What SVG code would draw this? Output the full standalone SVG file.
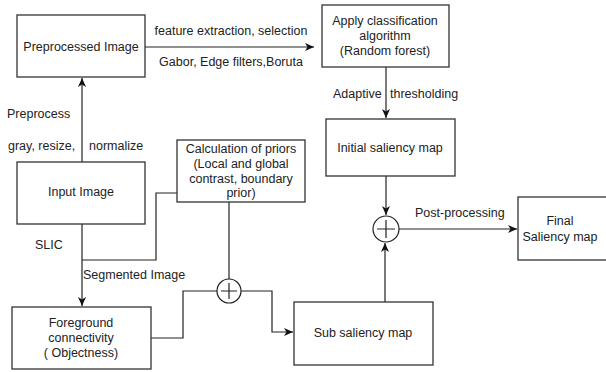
<svg xmlns="http://www.w3.org/2000/svg" width="606" height="372" viewBox="0 0 606 372">
<defs>
<style>
.box{fill:#fff;stroke:#333;stroke-width:1.3}
.t{font-family:"Liberation Sans",Arial,sans-serif;font-size:12.5px;fill:#222;text-anchor:middle}
.l{font-family:"Liberation Sans",Arial,sans-serif;font-size:12.5px;fill:#222}
.c{fill:none;stroke:#222;stroke-width:1.2}
</style>
<marker id="ah" markerWidth="10" markerHeight="10" refX="9" refY="5" orient="auto" markerUnits="userSpaceOnUse">
<path d="M0,1 L9,5 L0,9 L2.5,5 Z" fill="#111"/>
</marker>
</defs>
<rect width="606" height="372" fill="#fff"/>
<g id="connectors">
<path class="c" d="M145,47 H314" marker-end="url(#ah)"/>
<path class="c" d="M82,162 V78" marker-end="url(#ah)"/>
<path class="c" d="M386,67 V118" marker-end="url(#ah)"/>
<path class="c" d="M82,224 V306" marker-end="url(#ah)"/>
<path class="c" d="M177,193 H156 V260 H82"/>
<path class="c" d="M229,202 V279"/>
<path class="c" d="M151,338 H183 V291 H217"/>
<path class="c" d="M241,291 H272 V332 H293" marker-end="url(#ah)"/>
<path class="c" d="M386,176 V215" marker-end="url(#ah)"/>
<path class="c" d="M385,302 V243" marker-end="url(#ah)"/>
<path class="c" d="M399,229 H517" marker-end="url(#ah)"/>
<circle class="c" cx="229" cy="291" r="12"/>
<path class="c" d="M221,291 H237 M229,283 V299"/>
<circle class="c" cx="386" cy="229" r="13"/>
<path class="c" d="M377,229 H395 M386,220 V238"/>
<text class="t" x="231" y="35">feature extraction, selection</text>
<text class="t" x="231" y="66">Gabor, Edge filters,Boruta</text>
<text class="l" x="7" y="118">Preprocess</text>
<text class="l" x="8" y="150">gray, resize,</text>
<text class="l" x="89" y="150">normalize</text>
<text class="l" x="333" y="98">Adaptive</text>
<text class="l" x="390" y="98">thresholding</text>
<text class="l" x="35" y="249">SLIC</text>
<text class="l" x="83" y="279">Segmented Image</text>
<text class="l" x="415" y="217">Post-processing</text>
</g>
<g id="preprocessed">
<rect class="box" x="17" y="15" width="128" height="62"/>
<text class="t" x="81" y="51">Preprocessed Image</text>
</g>
<g id="classify">
<rect class="box" x="322" y="5" width="127" height="62"/>
<text class="t" x="385" y="25">Apply classification</text>
<text class="t" x="385" y="40">algorithm</text>
<text class="t" x="385" y="55">(Random forest)</text>
</g>
<g id="initial">
<rect class="box" x="326" y="119" width="129" height="57"/>
<text class="t" x="390" y="152">Initial saliency map</text>
</g>
<g id="input">
<rect class="box" x="17" y="162" width="128" height="62"/>
<text class="t" x="81" y="196">Input Image</text>
</g>
<g id="priors">
<rect class="box" x="177" y="140" width="128" height="62"/>
<text class="t" x="241" y="153">Calculation of priors</text>
<text class="t" x="241" y="168">(Local and global</text>
<text class="t" x="241" y="183">contrast, boundary</text>
<text class="t" x="241" y="197">prior)</text>
</g>
<g id="final">
<rect class="box" x="518" y="197" width="92" height="63"/>
<text class="t" x="560" y="225">Final</text>
<text class="t" x="560" y="241">Saliency map</text>
</g>
<g id="foreground">
<rect class="box" x="12" y="307" width="139" height="62"/>
<text class="t" x="81" y="327">Foreground</text>
<text class="t" x="81" y="342">connectivity</text>
<text class="t" x="81" y="357">( Objectness)</text>
</g>
<g id="sub">
<rect class="box" x="294" y="302" width="139" height="63"/>
<text class="t" x="363" y="337">Sub saliency map</text>
</g>
</svg>
